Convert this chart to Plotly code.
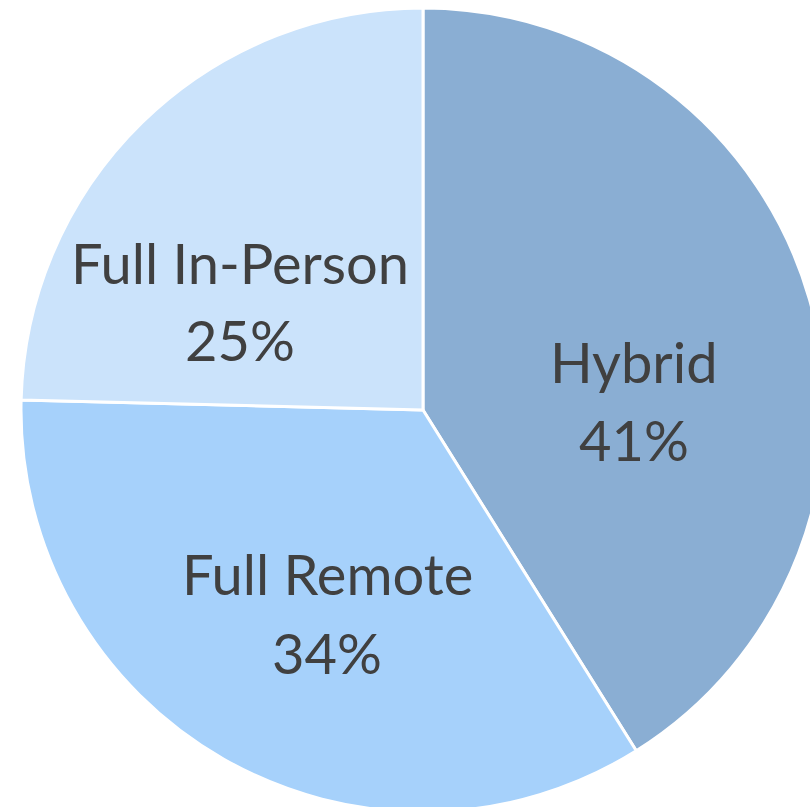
import plotly.graph_objects as go

labels = ["Hybrid", "Full Remote", "Full In-Person"]
values = [41.1, 34.3, 24.6]
colors = ["#8aaed3", "#a6d1fb", "#cbe3fb"]

# label placement (pixel centres of the two text lines) - layout only
label_x_px = [634, 327, 240]
name_y_px = [361, 573, 262]
pct_y_px = [439, 652, 339]

W, H = 825, 812
ML, MT = 21, 8
PW, PH = W - ML, H - MT

fig = go.Figure(go.Pie(
    labels=labels,
    values=values,
    sort=False,
    direction="clockwise",
    rotation=0,
    marker=dict(colors=colors, line=dict(color="white", width=3)),
    textinfo="none",
    showlegend=False,
    hoverinfo="label+percent",
))

total = sum(values)
font = dict(family="Lato", size=56, color="#404040")
annotations = []
for lab, v, xp, yn, yp in zip(labels, values, label_x_px, name_y_px, pct_y_px):
    xx = (xp - ML) / PW
    annotations.append(dict(text=lab, x=xx, y=1 - (yn - MT) / PH, xref="paper", yref="paper",
                            xanchor="center", yanchor="middle", showarrow=False, font=font))
    annotations.append(dict(text=f"{round(v / total * 100)}%", x=xx, y=1 - (yp - MT) / PH,
                            xref="paper", yref="paper", xanchor="center", yanchor="middle",
                            showarrow=False, font=font))

fig.update_layout(
    width=W, height=H,
    margin=dict(l=ML, r=0, t=MT, b=0),
    paper_bgcolor="white",
    plot_bgcolor="white",
    annotations=annotations,
)

fig.write_html("out.html", config={"displayModeBar": False},
               post_script="document.body.style.margin='0';document.body.style.overflow='hidden';")
